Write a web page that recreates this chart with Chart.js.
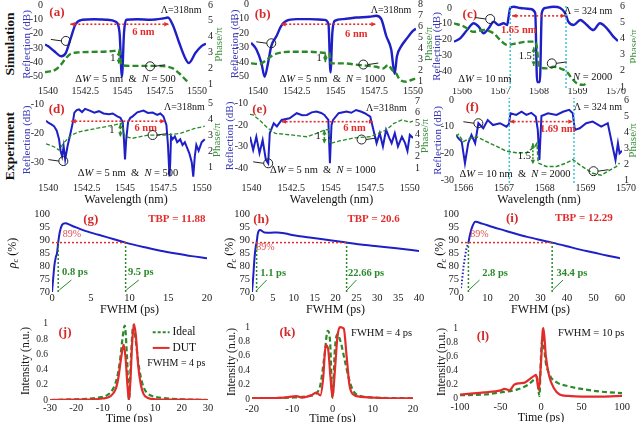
<!DOCTYPE html>
<html><head><meta charset="utf-8">
<script src="https://cdn.jsdelivr.net/npm/chart.js@4.4.1/dist/chart.umd.min.js"></script>
<style>
html,body{margin:0;padding:0;background:#fff}
#fig{position:relative;width:636px;height:422px;overflow:hidden;background:#fff}
.row{position:absolute;font:bold 13.5px "Liberation Serif",serif;color:#111;transform:translate(-50%,-50%) rotate(-90deg);white-space:nowrap}
</style></head><body>
<div id="fig">
  <div class="row" style="left:10px;top:44px">Simulation</div>
  <div class="row" style="left:10px;top:146px">Experiment</div>
</div>
<script>
// ---- data ----
const wlTicks = [1540, 1542.5, 1545, 1547.5, 1550];
const wlTicks2 = [1566, 1567, 1568, 1569, 1570];

// (a) simulation, dW = 5 nm, N = 500
const aWl = [1539.8,1540,1540.4,1540.9,1541.2,1541.5,1541.85,1542.3,1543.1,1544,1544.55,1544.8,1544.96,1545.1,1545.25,1546,1546.85,1547.7,1548.05,1548.4,1548.8,1549.2,1549.45,1549.9,1550.3,1550.6];
const aRefl = [-27.5,-28.6,-32,-35.7,-33.3,-24,-13.4,-10.3,-9.9,-10.3,-11.7,-19.3,-50,-19.3,-10.3,-9.9,-10.3,-9.4,-8.7,-14.6,-26.3,-36.9,-40.4,-33.3,-28.6,-27];
const aPhWl = [1539.8,1540,1540.45,1540.85,1541.2,1541.5,1542.05,1543.4,1544.45,1544.78,1544.93,1545.55,1546.6,1547.7,1548.35,1548.8,1549.25,1549.5];
const aPhase = [1.75,1.78,1.88,2.2,2.63,2.9,3.0,3.04,3.1,3.15,2.2,2.15,2.15,2.13,2.0,1.68,1.25,1.05];

// (b) simulation, N = 1000
const bWl = [1539.55,1539.9,1540.22,1540.43,1540.65,1540.86,1541.2,1541.5,1541.83,1542.47,1543.33,1544.3,1544.55,1544.68,1544.8,1544.95,1545.5,1546.35,1547.2,1547.63,1547.96,1548.28,1548.6,1548.82,1548.97,1549.25,1549.57,1550,1550.2];
const bRefl = [-26.6,-31.3,-40.5,-50,-40.5,-29,-22,-15,-11.6,-10.4,-10.4,-10.9,-13.7,-47,-19.9,-11.6,-10.4,-9.3,-8.8,-8.1,-10.4,-22,-31.3,-48,-35.9,-29,-24.3,-18.5,-17];
const bPhWl = [1539.55,1540.1,1540.53,1540.96,1541.4,1542,1543.3,1544.4,1544.62,1544.7,1545.48,1546.56,1547.63,1548.06,1548.4,1548.67,1548.92,1549.14,1549.57,1549.9,1550.2];
const bPhase = [2.66,2.6,2.95,3.4,3.6,3.7,3.7,3.6,3.56,2.66,2.66,2.5,2.35,2.2,2.5,2.05,1.76,1.22,1.0,1.16,1.3];

// (c) simulation, dW = 10 nm, N = 2000
const cWl = [1565.79,1565.95,1566.13,1566.3,1566.43,1566.56,1566.69,1566.82,1566.95,1567.08,1567.17,1567.21,1567.25,1567.34,1567.51,1567.77,1567.9,1567.95,1568.02,1568.07,1568.16,1568.38,1568.55,1568.68,1568.76,1568.9,1569.07,1569.24,1569.41,1569.58,1569.76,1569.93,1570.05];
const cRefl = [-21.4,-19.3,-14,-9.7,-11.8,-16,-12.9,-8.7,-10.8,-9.7,-10.8,-5.5,0,0.8,0,-0.6,-3.2,-47,-47,-3.2,0,0.8,0,-3.4,-8.7,-10.8,-7.6,-10.8,-14,-9.7,-12.9,-18.2,-21];
const cPhWl = [1565.79,1566.04,1566.3,1566.56,1566.82,1566.99,1567.17,1567.43,1567.69,1567.9,1567.94,1568.0,1568.2,1568.38,1568.55,1568.72,1568.85,1568.98,1569.15,1569.24];
const cPhase = [4.93,4.74,4.41,4.52,4.31,3.9,3.6,3.7,3.8,3.8,3.49,2.25,2.15,2.25,2.15,1.94,1.54,1.23,1.13,1.23];
const cEdges = [1567.25, 1568.7];

// (d) experiment, N = 500
const dWl = [1539.85,1540,1540.2,1540.37,1540.55,1540.7,1540.8,1540.9,1541.0,1541.1,1541.25,1541.4,1541.5,1541.6,1541.7,1541.85,1542.0,1542.2,1542.4,1542.7,1543.0,1543.3,1543.6,1543.95,1544.2,1544.5,1544.7,1544.85,1544.93,1545.0,1545.08,1545.2,1545.35,1545.5,1545.8,1546.2,1546.5,1546.8,1547.1,1547.3,1547.5,1547.7,1547.8,1547.9,1547.95,1548.0,1548.1,1548.25,1548.4,1548.6,1548.75,1548.9,1549.05,1549.2,1549.35,1549.45,1549.55,1549.65,1549.8,1550,1550.2];
const dRefl = [-15.5,-16.2,-16.8,-17.4,-19,-22,-26,-28,-24.5,-29,-24.5,-21,-18.6,-16,-12.7,-11.8,-11.6,-12.5,-11.4,-12,-12.7,-12.2,-13,-13.3,-13,-14,-14.5,-16,-22,-29,-22,-16,-14.5,-14,-12.6,-12,-12.8,-12.7,-13.5,-13,-14,-17,-24,-35,-30,-21,-22,-21,-23,-22,-24,-23,-25,-27,-30,-35,-28,-24,-26,-23,-22];
const dPhWl = [1539.85,1540,1540.37,1540.7,1541.0,1541.5,1542.0,1542.8,1543.6,1544.4,1544.8,1544.9,1545.0,1545.5,1546.5,1547.6,1548.6,1549.5,1550.0,1550.2];
const dPhase = [2.45,2.4,2.27,2.06,2.5,3.0,3.2,3.35,3.5,3.65,3.75,3.2,2.9,2.8,3.0,3.0,3.1,3.4,3.5,3.55];

// (e) experiment, N = 1000
const eWl = [1539.9,1540.1,1540.3,1540.5,1540.7,1540.9,1541.05,1541.15,1541.4,1541.6,1541.9,1542.4,1542.85,1543.2,1543.5,1543.8,1544.1,1544.4,1544.6,1544.85,1544.95,1545.05,1545.15,1545.5,1546.0,1546.3,1546.6,1546.9,1547.15,1547.5,1547.7,1547.9,1548.1,1548.3,1548.5,1548.7,1548.85,1549.05,1549.25,1549.5,1549.7,1549.85,1550,1550.2];
const eRefl = [-25.4,-31.5,-25.4,-33,-27,-36,-37.7,-23.8,-19.2,-20.7,-17.7,-16.9,-14.6,-15.5,-15.4,-14.2,-13.8,-14.5,-15.4,-17.7,-37.7,-20,-17.7,-14.6,-13.8,-14.4,-13.1,-13.8,-14.6,-16.2,-22.3,-28.4,-23.8,-29.9,-22.3,-26,-28.4,-23.8,-29.9,-25.4,-28.4,-32,-24.6,-26];
const ePhWl = [1539.9,1540.1,1540.5,1541.0,1541.5,1542.5,1543.5,1544.1,1544.6,1544.85,1544.95,1545.5,1546.5,1547.5,1548.0,1548.5,1549.0,1549.5,1550.0,1550.2];
const ePhase = [5.8,5.75,5.3,4.6,4.1,3.96,3.8,4.1,4.4,4.45,3.2,3.4,3.7,3.8,4.1,4.4,5.0,5.3,5.1,5.2];

// (f) experiment, dW = 10 nm, N = 2000
const fWl = [1565.82,1565.88,1565.96,1566.04,1566.12,1566.2,1566.29,1566.37,1566.49,1566.6,1566.73,1566.9,1567.06,1567.12,1567.16,1567.3,1567.43,1567.55,1567.67,1567.78,1567.83,1567.87,1567.92,1568.08,1568.29,1568.45,1568.6,1568.69,1568.74,1568.86,1569.02,1569.18,1569.39,1569.55,1569.67,1569.74,1569.8,1569.84,1569.9];
const fRefl = [-13,-14.4,-15.6,-23.7,-16.2,-13.1,-16.2,-8.7,-10.6,-7.5,-9.4,-8.7,-10,-9,-5,-5.6,-4.4,-5.6,-4.8,-6.2,-11.2,-22.5,-6,-5,-5.6,-4.4,-3.7,-5,-11.2,-10.6,-8.7,-8.1,-10,-8.7,-17.5,-22.5,-16.2,-20,-19];
const fPhWl = [1565.82,1565.88,1566.0,1566.16,1566.33,1566.57,1566.82,1567.06,1567.31,1567.55,1567.76,1567.81,1567.84,1568.04,1568.29,1568.53,1568.69,1568.86,1569.18,1569.39,1569.59,1569.76,1569.84];
const fPhase = [3.7,3.85,3.4,3.6,3.7,3.4,3.1,2.8,2.7,2.7,3.1,3.3,2.06,1.84,1.84,2.06,2.27,1.95,1.42,1.3,1.6,1.84,2.06];
const fEdges = [1567.13, 1568.72];

// (g)-(i) rho_c vs FWHM
const rhoLevel = 89;
const gFwhm = [0,0.15,0.3,0.5,0.65,0.8,1.0,1.3,1.7,2.5,4,6,8,9.5,12,14,16,18,20];
const gRho = [70,75,80,83.5,85,89,93,95.8,96.4,95.6,93.8,92,90.3,89,87.2,85.9,84.8,83.8,83];
const gMarks = [0.8, 9.5];
const hFwhm = [0,0.3,0.6,0.9,1.1,1.4,1.9,3,4.5,6,8,10,13.8,17,20,22.66,26,30,34.6,40];
const hRho = [70,76,83,87.5,89,92.5,93.8,92.9,92.8,92.9,92.5,91.8,91,90.3,89.6,89,88.3,87.6,86.8,85.8];
const hMarks = [1.1, 22.66];
const iDotFwhm = [0,0.5,1,1.5,2,2.8];
const iDotRho = [71.5,75.5,80,83.5,86.5,89];
const iFwhm = [2.8,3.5,4.3,5.4,8,12,16,20,25,30,34.4,40,45,50,55,60];
const iRho = [89,92.5,95.2,97,96.3,95,93.8,92.6,91.2,90,89,87.6,86.3,85.2,84,83];
const iMarks = [2.8, 34.4];
const tbp = ['11.88', '20.6', '12.29'];

// (j)-(l) pulse intensity
const jDutT = [-30,-20,-10,-7,-5,-4,-3,-2,-1.3,-0.6,0,0.6,1.2,1.9,2.6,3.5,4.5,5.5,7,10,20,30];
const jDut = [0,0.005,0.02,0.05,0.15,0.3,0.55,0.73,0.55,0.2,0,0.3,0.75,1.0,0.85,0.45,0.2,0.08,0.03,0.01,0.005,0];
const jIdT = [-30,-20,-12,-8,-6,-4.5,-3.5,-2.5,-1.6,-0.8,0,0.8,1.6,2.5,3.5,4.5,5.5,7,9,12,20,30];
const jIdeal = [0,0.01,0.03,0.07,0.15,0.3,0.5,0.8,0.98,0.6,0,0.6,0.98,0.8,0.5,0.3,0.17,0.09,0.05,0.03,0.01,0];
const kDutT = [-20,-12,-9,-7.5,-5,-4,-3,-2.3,-1.7,-1.1,-0.5,0,0.6,1.2,1.8,2.8,3.5,4.2,5,7,10,15,20];
const kDut = [0.01,0.02,0.04,0.02,0.06,0.09,0.05,0.3,0.75,0.7,0.3,0.02,0.4,0.85,1.0,0.98,0.6,0.2,0.07,0.03,0.02,0.01,0.01];
const kIdT = [-20,-10,-6,-4,-3,-2,-1.2,-0.6,0,0.6,1.2,2,3,4,5,6,7,10,20];
const kIdeal = [0.01,0.02,0.04,0.08,0.2,0.6,0.95,0.8,0.02,0.7,0.9,0.8,0.55,0.3,0.13,0.06,0.04,0.02,0.01];
const lDutT = [-100,-90,-70,-50,-45,-39,-33,-27,-20,-14,-8,-6,-3,0,2,3,6,10,16,23,33,50,75,100];
const lDut = [0.05,0.06,0.08,0.11,0.13,0.11,0.19,0.21,0.22,0.27,0.32,0.33,0.12,0.5,0.95,1.0,0.6,0.32,0.14,0.05,0.03,0.02,0.02,0.03];
const lIdT = [-100,-70,-50,-30,-16,-8,-5,-2,0,2,4,6,10,12,20,33,50,75,100];
const lIdeal = [0.04,0.05,0.08,0.12,0.19,0.27,0.3,0.03,0.6,0.88,0.7,0.5,0.35,0.3,0.22,0.17,0.13,0.09,0.07];

// ---- drawing ----
const SERIF = '"Liberation Serif", "Times New Roman", serif';
Chart.defaults.font.family = SERIF;
Chart.defaults.color = '#222';

const BLUE = '#1f1fc8', GREEN = '#2a8a2a', RED = '#e42b2b', CYAN = '#3cc6d6';
const TBLUE = '#3535b8', TGREEN = '#3b8f3b', LRED = '#d42a2a';

function line(xs, ys, color, w, dash, ax, smooth) {
  return {
    data: xs.map((x, i) => ({ x: x, y: ys[i] })),
    borderColor: color, borderWidth: w, borderDash: dash || [],
    pointRadius: 0, fill: false, yAxisID: ax || 'y',
    cubicInterpolationMode: smooth ? 'monotone' : 'default', tension: 0
  };
}

function fnt(size, st) {
  return (st.includes('i') ? 'italic ' : '') + (st.includes('b') ? 'bold ' : '') + size + 'px ' + SERIF;
}

function rich(ctx, x, y, parts, size, color, align, rot) {
  ctx.save();
  ctx.translate(x, y);
  if (rot) ctx.rotate(rot);
  ctx.fillStyle = color;
  ctx.textBaseline = 'middle';
  ctx.textAlign = 'left';
  const segs = parts.map(p => typeof p === 'string' ? [p, ''] : p);
  let w = 0;
  const ws = segs.map(([t, st]) => {
    ctx.font = fnt(st.includes('s') ? size * 0.7 : size, st);
    const m = ctx.measureText(t).width; w += m; return m;
  });
  let cx = align === 'center' ? -w / 2 : align === 'right' ? -w : 0;
  segs.forEach(([t, st], i) => {
    const sub = st.includes('s');
    ctx.font = fnt(sub ? size * 0.7 : size, st);
    ctx.fillText(t, cx, sub ? size * 0.3 : 0);
    cx += ws[i];
  });
  ctx.restore();
}

function head(ctx, tx, ty, fx, fy, sz) {
  const a = Math.atan2(ty - fy, tx - fx);
  ctx.beginPath();
  ctx.moveTo(tx, ty);
  ctx.lineTo(tx - sz * Math.cos(a - 0.45), ty - sz * Math.sin(a - 0.45));
  ctx.lineTo(tx - sz * Math.cos(a + 0.45), ty - sz * Math.sin(a + 0.45));
  ctx.closePath();
  ctx.fill();
}

function drawNotes(chart, notes) {
  const ctx = chart.ctx, A = chart.chartArea, S = chart.scales;
  const X = v => S.x.getPixelForValue(v);
  const Y = (v, ax) => S[ax || 'y'].getPixelForValue(v);
  for (const n of notes) {
    ctx.save();
    if (n.k === 'txt') {
      rich(ctx, X(n.x), Y(n.y, n.ax), n.p, n.s || 10.5, n.c || '#111', n.al || 'center', 0);
    } else if (n.k === 'ttl') {
      const my = (A.top + A.bottom) / 2, mx = (A.left + A.right) / 2;
      if (n.side === 'left') rich(ctx, A.left - n.off, my, n.p, n.s || 12, n.c || '#111', 'center', -Math.PI / 2);
      else if (n.side === 'right') rich(ctx, A.right + n.off, my, n.p, n.s || 12, n.c || '#111', 'center', -Math.PI / 2);
      else rich(ctx, mx + (n.dx || 0), A.bottom + n.off, n.p, n.s || 12, n.c || '#111', 'center', 0);
    } else if (n.k === 'arr') {
      const x1 = X(n.x1), y1 = Y(n.y1, n.ax), x2 = X(n.x2), y2 = Y(n.y2, n.ax);
      ctx.strokeStyle = n.c; ctx.fillStyle = n.c; ctx.lineWidth = n.w || 1.5;
      ctx.setLineDash(n.d || []);
      ctx.beginPath(); ctx.moveTo(x1, y1); ctx.lineTo(x2, y2); ctx.stroke();
      ctx.setLineDash([]);
      if (n.h) { head(ctx, x1, y1, x2, y2, 5); head(ctx, x2, y2, x1, y1, 5); }
    } else if (n.k === 'circ') {
      const cx = X(n.x), cy = Y(n.y, n.ax);
      ctx.strokeStyle = '#222'; ctx.lineWidth = 1;
      ctx.beginPath(); ctx.arc(cx, cy, 4.5, 0, 2 * Math.PI); ctx.stroke();
      ctx.beginPath(); ctx.moveTo(cx + n.dir * 4.5, cy); ctx.lineTo(cx + n.dir * 15, cy - 1.5); ctx.stroke();
    }
    ctx.restore();
  }
}

function panel(o) {
  const [x0, y0, x1, y1] = o.box, [l, t, r, b] = o.plot;
  const cv = document.createElement('canvas');
  cv.width = x1 - x0; cv.height = y1 - y0;
  cv.style.cssText = `position:absolute;left:${x0}px;top:${y0}px;width:${x1 - x0}px;height:${y1 - y0}px`;
  document.getElementById('fig').appendChild(cv);
  const fs = o.fs || 10.5;
  const yAxis = (rng, vals, pos, width) => ({
    type: 'linear', position: pos, min: rng[0], max: rng[1],
    afterBuildTicks: s => { s.ticks = vals.map(v => ({ value: v })); },
    afterFit: s => { s.width = width; s.paddingTop = 0; s.paddingBottom = 0; },
    grid: { display: false, drawTicks: false }, border: { display: false },
    ticks: { padding: 2, autoSkip: false, callback: v => String(v), font: { size: o.yfs || fs }, color: '#222' }
  });
  const scales = {
    x: {
      type: 'linear', min: o.x[0], max: o.x[1],
      afterBuildTicks: s => { s.ticks = o.xt.map(v => ({ value: v })); },
      afterFit: s => { s.height = y1 - b; s.paddingLeft = 0; s.paddingRight = 0; },
      grid: { display: false, drawTicks: false }, border: { display: false },
      ticks: { padding: o.ly - b - fs * 0.6, maxRotation: 0, autoSkip: false, callback: v => String(v), font: { size: fs }, color: '#222' }
    },
    y: yAxis(o.y, o.yt, 'left', l - x0)
  };
  if (o.y2) scales.y2 = yAxis(o.y2, o.y2t, 'right', x1 - r);
  new Chart(cv, {
    type: 'line',
    data: { datasets: o.ds },
    options: {
      responsive: false, animation: false, events: [],
      layout: { padding: { top: t - y0, left: 0, right: o.y2 ? 0 : x1 - r, bottom: 0 } },
      plugins: { legend: { display: false }, tooltip: { enabled: false } },
      scales: scales
    },
    plugins: [{ id: 'notes', afterDatasetsDraw: c => drawNotes(c, o.notes) }]
  });
}

const reflT = { k: 'ttl', side: 'left', s: 11, p: ['Reflection (dB)'], c: TBLUE };
const phT = { k: 'ttl', side: 'right', s: 11, p: ['Phase/π'], c: TGREEN };
const dw = (w, n) => ['Δ', ['W', 'i'], ' = ' + w + ' nm  &  ', ['N', 'i'], ' = ' + n];

// (a)
panel({
  box: [18, -8, 228, 96], plot: [45, 5, 206, 84], ly: 91, fs: 10,
  x: [1539.8, 1550.6], xt: wlTicks, y: [-55, 0], yt: [0, -10, -20, -30, -40, -50], y2: [1, 6], y2t: [1, 2, 3, 4, 5, 6],
  ds: [line(aPhWl, aPhase, GREEN, 2.4, [6, 3], 'y2', true), line(aWl, aRefl, BLUE, 2.4, [], 'y', true)],
  notes: [
    Object.assign({ off: 18 }, reflT), Object.assign({ off: 13 }, phT),
    { k: 'txt', x: 1540.6, y: -5.5, p: [['(a)', 'b']], s: 13, c: LRED },
    { k: 'txt', x: 1550.3, y: -3.5, p: ['Λ=318nm'], s: 10, al: 'right' },
    { k: 'arr', x1: 1541.5, y1: -13.4, x2: 1548.1, y2: -13.4, c: RED, d: [2, 2], w: 1.6, h: 1 },
    { k: 'txt', x: 1546.4, y: -18.8, p: [['6 nm', 'b']], c: RED },
    { k: 'arr', ax: 'y2', x1: 1544.75, y1: 3.1, x2: 1544.75, y2: 2.25, c: GREEN, d: [2, 1.5], w: 1.5, h: 1 },
    { k: 'txt', ax: 'y2', x: 1544.35, y: 2.65, p: ['1'] },
    { k: 'txt', x: 1545.2, y: -52, p: dw(5, 500) },
    { k: 'circ', x: 1541.2, y: -25, dir: -1 },
    { k: 'circ', ax: 'y2', x: 1546.85, y: 2.12, dir: 1 }
  ]
});

// (b)
panel({
  box: [226, -8, 436, 96], plot: [251, 4, 416, 84], ly: 91, fs: 10,
  x: [1539.55, 1550.2], xt: wlTicks, y: [-55, 0], yt: [0, -10, -20, -30, -40, -50], y2: [0.8, 8], y2t: [1, 2, 3, 4, 5, 6, 7, 8],
  ds: [line(bPhWl, bPhase, GREEN, 2.4, [6, 3], 'y2', true), line(bWl, bRefl, BLUE, 2.4, [], 'y', true)],
  notes: [
    Object.assign({ off: 16 }, reflT), Object.assign({ off: 13 }, phT),
    { k: 'txt', x: 1540.3, y: -7, p: [['(b)', 'b']], s: 13, c: LRED },
    { k: 'txt', x: 1549.9, y: -4.6, p: ['Λ=318nm'], s: 10, al: 'right' },
    { k: 'arr', x1: 1541.5, y1: -13.9, x2: 1547.6, y2: -13.9, c: RED, d: [2, 2], w: 1.6, h: 1 },
    { k: 'txt', x: 1546.35, y: -20.7, p: [['6 nm', 'b']], c: RED },
    { k: 'arr', ax: 'y2', x1: 1544.35, y1: 3.55, x2: 1544.35, y2: 2.75, c: GREEN, d: [2, 1.5], w: 1.5, h: 1 },
    { k: 'txt', ax: 'y2', x: 1543.95, y: 3.15, p: ['1'] },
    { k: 'txt', x: 1544.8, y: -52, p: dw(5, 1000) },
    { k: 'circ', x: 1540.86, y: -27, dir: -1 },
    { k: 'circ', ax: 'y2', x: 1546.8, y: 2.55, dir: 1 }
  ]
});

// (c)
const cY = [-50.8, 1.9];
panel({
  box: [428, -8, 652, 96], plot: [454, 5, 618, 88], ly: 91, fs: 10,
  x: [1565.79, 1570.05], xt: wlTicks2, y: cY, yt: [0, -10, -20, -30, -40], y2: [0.94, 6.06], y2t: [1, 2, 3, 4, 5, 6],
  ds: cEdges.map(e => line([e, e], cY, CYAN, 1.5, [2, 2]))
    .concat([line(cPhWl, cPhase, GREEN, 2.4, [6, 3], 'y2', true), line(cWl, cRefl, BLUE, 2.4, [], 'y', true)]),
  notes: [
    Object.assign({ off: 17 }, reflT), Object.assign({ off: 16 }, phT),
    { k: 'txt', x: 1566.2, y: -4.5, p: [['(c)', 'b']], s: 13, c: LRED },
    { k: 'txt', x: 1569.9, y: -2.4, p: ['Λ = 324 nm'], s: 10, al: 'right' },
    { k: 'arr', x1: 1567.3, y1: -5, x2: 1568.68, y2: -5, c: RED, d: [2, 2], w: 1.6, h: 1 },
    { k: 'txt', x: 1567.47, y: -14, p: [['1.65 nm', 'b']], c: RED },
    { k: 'arr', ax: 'y2', x1: 1567.86, y1: 3.45, x2: 1567.86, y2: 2.3, c: GREEN, d: [2, 1.5], w: 1.5, h: 1 },
    { k: 'txt', ax: 'y2', x: 1567.64, y: 2.87, p: ['1.5'] },
    { k: 'txt', x: 1565.9, y: -45.5, p: ['Δ', ['W', 'i'], ' = 10 nm'], al: 'left' },
    { k: 'txt', x: 1569.9, y: -44, p: [['N', 'i'], ' = 2000'], al: 'right' },
    { k: 'circ', x: 1566.73, y: -7, dir: -1 },
    { k: 'circ', ax: 'y2', x: 1568.33, y: 2.46, dir: 1 }
  ]
});

// (d)
panel({
  box: [16, 90, 228, 212], plot: [46, 100, 206, 180], ly: 188, fs: 10,
  x: [1539.85, 1550.28], xt: wlTicks, y: [-36.2, -8.3], yt: [-10, -20, -30], y2: [0.19, 5.19], y2t: [1, 2, 3, 4, 5],
  ds: [line(dPhWl, dPhase, GREEN, 1.3, [4, 2], 'y2'), line(dWl, dRefl, BLUE, 2, [])],
  notes: [
    Object.assign({ off: 19 }, reflT), Object.assign({ off: 11 }, phT),
    { k: 'ttl', side: 'bottom', off: 20, p: ['Wavelength (nm)'] },
    { k: 'txt', x: 1540.55, y: -11.6, p: [['(d)', 'b']], s: 13, c: LRED },
    { k: 'txt', x: 1550.2, y: -11, p: ['Λ=318nm'], s: 10, al: 'right' },
    { k: 'arr', x1: 1541.5, y1: -15.7, x2: 1547.6, y2: -15.7, c: RED, d: [2, 2], w: 1.6, h: 1 },
    { k: 'txt', x: 1546.35, y: -18.2, p: [['6 nm', 'b']], c: RED },
    { k: 'arr', ax: 'y2', x1: 1544.7, y1: 3.7, x2: 1544.7, y2: 2.9, c: GREEN, d: [2, 1.5], w: 1.5, h: 1 },
    { k: 'txt', ax: 'y2', x: 1544.15, y: 3.3, p: ['1'] },
    { k: 'txt', x: 1545.2, y: -33.7, p: dw(5, 500) },
    { k: 'circ', x: 1540.98, y: -29.6, dir: -1 },
    { k: 'circ', ax: 'y2', x: 1546.8, y: 3.0, dir: 1 }
  ]
});

// (e)
panel({
  box: [222, 90, 436, 212], plot: [250, 100, 413, 172], ly: 188, fs: 10,
  x: [1539.9, 1550.2], xt: wlTicks, y: [-41.7, -8.5], yt: [-10, -20, -30, -40], y2: [0.64, 7.09], y2t: [1, 2, 3, 4, 5, 6, 7],
  ds: [line(ePhWl, ePhase, GREEN, 1.3, [4, 2], 'y2'), line(eWl, eRefl, BLUE, 2, [])],
  notes: [
    Object.assign({ off: 20 }, reflT), Object.assign({ off: 12 }, phT),
    { k: 'ttl', side: 'bottom', off: 28, p: ['Wavelength (nm)'] },
    { k: 'txt', x: 1540.5, y: -13, p: [['(e)', 'b']], s: 13, c: LRED },
    { k: 'txt', x: 1549.8, y: -12.3, p: ['Λ=318nm'], s: 10, al: 'right' },
    { k: 'arr', x1: 1541.9, y1: -18.5, x2: 1547.7, y2: -18.5, c: RED, d: [2, 2], w: 1.6, h: 1 },
    { k: 'txt', x: 1546.5, y: -21.5, p: [['6 nm', 'b']], c: RED },
    { k: 'arr', ax: 'y2', x1: 1544.6, y1: 4.4, x2: 1544.6, y2: 3.2, c: GREEN, d: [2, 1.5], w: 1.5, h: 1 },
    { k: 'txt', ax: 'y2', x: 1544.2, y: 3.8, p: ['1'] },
    { k: 'txt', x: 1544.5, y: -41, p: dw(5, 1000) },
    { k: 'circ', x: 1541.05, y: -37.7, dir: -1 },
    { k: 'circ', ax: 'y2', x: 1546.95, y: 3.55, dir: 1 }
  ]
});

// (f)
const fY = [-31.1, 0.75];
panel({
  box: [428, 90, 648, 212], plot: [456, 98, 622, 183], ly: 188, fs: 10,
  x: [1565.82, 1569.9], xt: wlTicks2, y: fY, yt: [0, -10, -20, -30], y2: [0.81, 6.13], y2t: [1, 2, 3, 4, 5, 6],
  ds: fEdges.map(e => line([e, e], fY, CYAN, 1.5, [2, 2]))
    .concat([line(fPhWl, fPhase, GREEN, 1.5, [4, 2], 'y2'), line(fWl, fRefl, BLUE, 2, [])]),
  notes: [
    Object.assign({ off: 18 }, reflT), Object.assign({ off: 11 }, phT),
    { k: 'ttl', side: 'bottom', off: 17, p: ['Wavelength (nm)'] },
    { k: 'txt', x: 1566.22, y: -3, p: [['(f)', 'b']], s: 13, c: LRED },
    { k: 'txt', x: 1569.9, y: -2.6, p: ['Λ = 324 nm'], s: 10, al: 'right' },
    { k: 'arr', x1: 1567.14, y1: -8.1, x2: 1568.69, y2: -8.1, c: RED, d: [2, 2], w: 1.6, h: 1 },
    { k: 'txt', x: 1568.32, y: -10.8, p: [['1.69 nm', 'b']], c: RED },
    { k: 'arr', ax: 'y2', x1: 1567.71, y1: 3.3, x2: 1567.71, y2: 1.98, c: GREEN, d: [2, 1.5], w: 1.5, h: 1 },
    { k: 'txt', ax: 'y2', x: 1567.5, y: 2.47, p: ['1.5'] },
    { k: 'txt', x: 1567.27, y: -28, p: dw(10, 2000) },
    { k: 'circ', x: 1566.37, y: -8.7, dir: -1 },
    { k: 'circ', ax: 'y2', x: 1569.2, y: 1.55, dir: 1 }
  ]
});

// (g)-(i)
function rhoPanel(o, fw, rho, marks, extra) {
  const ds = [line([0, marks[1]], [rhoLevel, rhoLevel], RED, 1.5, [2, 2])]
    .concat(marks.map(m => line([m, m], [70, rhoLevel], GREEN, 1.5, [2, 2])))
    .concat(extra || [])
    .concat([line(fw, rho, BLUE, 2, [], 'y', true)]);
  o.ds = ds;
  o.y = [70, 100]; o.yt = [70, 75, 80, 85, 90, 95, 100]; o.ly = 298;
  panel(o);
}
const rhoT = off => ({ k: 'ttl', side: 'left', off: off, p: [['ρ', 'i'], ['c', 'is'], ' (%)'] });
const fwT = { k: 'ttl', side: 'bottom', off: 18, p: ['FWHM (ps)'] };
const lead = (x1, x2) => ({ k: 'arr', x1: x1, y1: 70.8, x2: x2, y2: 74.6, c: GREEN, w: 1 });

rhoPanel({
  box: [0, 200, 222, 322], plot: [52, 214, 207, 292], x: [0, 20], xt: [0, 5, 10, 15, 20],
  notes: [rhoT(39.5), fwT,
    { k: 'txt', x: 5, y: 98, p: [['(g)', 'b']], s: 13, c: LRED },
    { k: 'txt', x: 19.8, y: 98, p: [['TBP = ' + tbp[0], 'b']], s: 11, c: RED, al: 'right' },
    { k: 'txt', x: 1.4, y: 92.3, p: [rhoLevel + '%'], s: 10, c: '#e05050', al: 'left' },
    { k: 'txt', x: 1.3, y: 77.5, p: [[gMarks[0] + ' ps', 'b']], c: GREEN, al: 'left' },
    { k: 'txt', x: 9.8, y: 77.5, p: [[gMarks[1] + ' ps', 'b']], c: GREEN, al: 'left' },
    lead(0.95, 2.5), lead(9.6, 11.2)]
}, gFwhm, gRho, gMarks);

rhoPanel({
  box: [215, 200, 430, 322], plot: [252, 214, 419, 292], x: [0, 40], xt: [0, 5, 10, 15, 20, 25, 30, 35, 40],
  notes: [rhoT(22), fwT,
    { k: 'txt', x: 2.2, y: 98, p: [['(h)', 'b']], s: 13, c: LRED },
    { k: 'txt', x: 35.4, y: 98, p: [['TBP = ' + tbp[1], 'b']], s: 11, c: RED, al: 'right' },
    { k: 'txt', x: 1, y: 87, p: [rhoLevel + '%'], s: 10, c: '#e05050', al: 'left' },
    { k: 'txt', x: 2, y: 77.3, p: [[hMarks[0] + ' ps', 'b']], c: GREEN, al: 'left' },
    { k: 'txt', x: 23, y: 77.3, p: [[hMarks[1] + ' ps', 'b']], c: GREEN, al: 'left' },
    lead(1.2, 3.5), lead(22.8, 25)]
}, hFwhm, hRho, hMarks);

rhoPanel({
  box: [425, 200, 636, 322], plot: [461, 214, 620, 292], x: [0, 60], xt: [0, 10, 20, 30, 40, 50, 60],
  notes: [rhoT(21), fwT,
    { k: 'txt', x: 19.3, y: 98.3, p: [['(i)', 'b']], s: 13, c: LRED },
    { k: 'txt', x: 57.3, y: 98.3, p: [['TBP = ' + tbp[2], 'b']], s: 11, c: RED, al: 'right' },
    { k: 'txt', x: 3.5, y: 92, p: [rhoLevel + '%'], s: 10, c: '#e05050', al: 'left' },
    { k: 'txt', x: 8, y: 77.3, p: [[iMarks[0] + ' ps', 'b']], c: GREEN, al: 'left' },
    { k: 'txt', x: 36, y: 77.3, p: [[iMarks[1] + ' ps', 'b']], c: GREEN, al: 'left' },
    lead(3, 7), lead(34.6, 38.5)]
}, iFwhm, iRho, iMarks, [line(iDotFwhm, iDotRho, BLUE, 2, [1.5, 2])]);

// (j)-(l)
const intT = off => ({ k: 'ttl', side: 'left', off: off, s: 11.5, p: ['Intensity (n.u.)'] });
const timeT = off => ({ k: 'ttl', side: 'bottom', off: off, p: ['Time (ps)'] });
const iTicks = [0, 0.2, 0.4, 0.6, 0.8, 1];
function pulsePanel(o, dT, dut, iT, ideal) {
  o.ds = [line(dT, dut, RED, 2.2, [], 'y', true), line(iT, ideal, GREEN, 2.2, [5, 3], 'y', true)];
  o.yt = iTicks; o.yfs = 9.5;
  panel(o);
}
pulsePanel({
  box: [0, 310, 222, 432], plot: [50, 322, 208, 400], ly: 408, x: [-30, 30], xt: [-30, -20, -10, 0, 10, 20, 30], y: [0, 1.026],
  notes: [intT(24), timeT(19),
    { k: 'txt', x: -24.3, y: 0.88, p: [['(j)', 'b']], s: 13, c: LRED },
    { k: 'arr', x1: 9, y1: 0.89, x2: 15.4, y2: 0.89, c: GREEN, d: [3, 2], w: 2 },
    { k: 'txt', x: 16.5, y: 0.89, p: ['Ideal'], s: 11.5, al: 'left' },
    { k: 'arr', x1: 9, y1: 0.685, x2: 15.4, y2: 0.685, c: RED, w: 2 },
    { k: 'txt', x: 16.5, y: 0.685, p: ['DUT'], s: 11.5, al: 'left' },
    { k: 'txt', x: 18, y: 0.48, p: ['FWHM = 4 ps'], s: 10 }]
}, jDutT, jDut, jIdT, jIdeal);

pulsePanel({
  box: [215, 310, 430, 432], plot: [252, 325, 413, 399], ly: 409, x: [-20, 20], xt: [-20, -10, 0, 10, 20], y: [0, 1.03],
  notes: [intT(20), timeT(20),
    { k: 'txt', x: -11.2, y: 0.92, p: [['(k)', 'b']], s: 13, c: LRED },
    { k: 'txt', x: 12.2, y: 0.92, p: ['FWHM = 4 ps'], s: 10.5 }]
}, kDutT, kDut, kIdT, kIdeal);

pulsePanel({
  box: [425, 310, 636, 432], plot: [460, 326, 622, 398], ly: 407, x: [-100, 100], xt: [-100, -50, 0, 50, 100], y: [0, 1.03],
  notes: [intT(18), timeT(20),
    { k: 'txt', x: -71.6, y: 0.875, p: [['(l)', 'b']], s: 13, c: LRED },
    { k: 'txt', x: 62, y: 0.92, p: ['FWHM = 10 ps'], s: 10.5 }]
}, lDutT, lDut, lIdT, lIdeal);
</script>
</body></html>
